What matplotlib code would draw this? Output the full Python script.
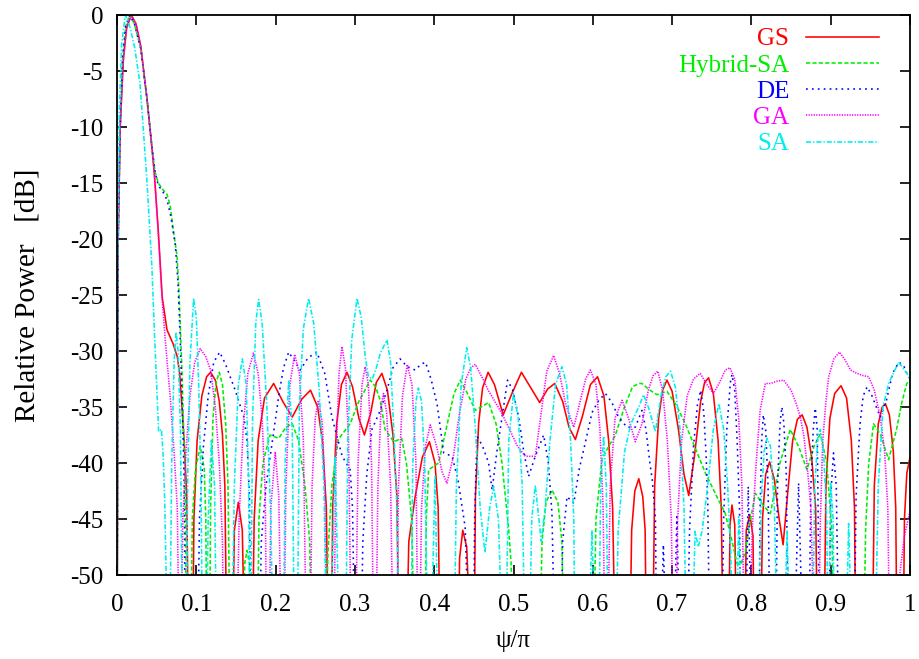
import matplotlib
matplotlib.use("Agg")
import matplotlib.pyplot as plt

plt.rcParams['font.family'] = ['Liberation Serif', 'DejaVu Serif']
plt.rcParams['axes.unicode_minus'] = False

series_names = ["GS", "Hybrid-SA", "DE", "GA", "SA"]
x_ticks = [0, 0.1, 0.2, 0.3, 0.4, 0.5, 0.6, 0.7, 0.8, 0.9, 1]
x_tick_labels = ["0", "0.1", "0.2", "0.3", "0.4", "0.5", "0.6", "0.7", "0.8", "0.9", "1"]
y_ticks = [0, -5, -10, -15, -20, -25, -30, -35, -40, -45, -50]

# GS (red, solid)
gs_pts = [
    (0, -60), (0.0015, -20), (0.004, -10), (0.008, -4), (0.012, -1.2), (0.018, 0), (0.024, -0.8), (0.030, -2.8),
    (0.038, -7.6), (0.044, -11.8), (0.047, -14.1), (0.052, -19.2), (0.057, -25.2), (0.063, -28.1), (0.071, -29.4),
    (0.076, -30.5), (0.079, -32), (0.082, -35), (0.085, -38.5), (0.088, -43), (0.0905, -60),
    (0.095, -60), (0.097, -45), (0.101, -38), (0.107, -34), (0.113, -32.3), (0.118, -31.9), (0.124, -32.6),
    (0.129, -34.5), (0.133, -37.5), (0.136, -42), (0.139, -60),
    (0.145, -60), (0.148, -46), (0.153, -43.5), (0.158, -46), (0.162, -60),
    (0.170, -60), (0.173, -45), (0.178, -38), (0.186, -34.2), (0.1975, -32.9), (0.209, -34.5), (0.221, -35.9),
    (0.233, -34.3), (0.244, -33.5), (0.253, -35), (0.259, -38), (0.264, -44), (0.267, -60),
    (0.270, -60), (0.272, -44), (0.277, -36.5), (0.283, -33), (0.290, -31.9), (0.297, -33.2), (0.305, -36),
    (0.312, -37.5), (0.320, -35.5), (0.327, -32.8), (0.334, -32), (0.341, -33.5), (0.348, -37.5), (0.353, -43),
    (0.356, -60),
    (0.364, -60), (0.368, -47), (0.376, -43), (0.385, -39.5), (0.394, -38.1), (0.401, -40), (0.405, -44), (0.408, -60),
    (0.430, -60), (0.432, -48.5), (0.436, -46), (0.441, -47.5), (0.448, -60),
    (0.450, -60), (0.452, -43), (0.456, -36.5), (0.461, -33.3), (0.468, -31.9), (0.476, -33), (0.487, -35.7),
    (0.498, -33.8), (0.510, -31.9), (0.521, -33.2), (0.533, -34.6), (0.543, -33.4), (0.552, -32.9), (0.562, -34.5),
    (0.570, -36.8), (0.578, -37.9), (0.587, -35.8), (0.597, -33), (0.606, -32.3), (0.614, -34), (0.620, -38),
    (0.625, -44), (0.629, -60),
    (0.646, -60), (0.649, -46), (0.653, -42.5), (0.658, -41.4), (0.663, -43), (0.666, -46), (0.668, -60),
    (0.675, -60), (0.678, -42), (0.683, -36), (0.688, -33.5), (0.6935, -32.6), (0.700, -33.6), (0.708, -37),
    (0.715, -41), (0.721, -42.9), (0.728, -39.5), (0.736, -34.5), (0.741, -32.8), (0.746, -32.4), (0.752, -33.8),
    (0.758, -38), (0.762, -44), (0.765, -60),
    (0.771, -60), (0.773, -45.5), (0.7755, -43.75), (0.779, -45.5), (0.782, -60),
    (0.791, -60), (0.7935, -46), (0.798, -44.6), (0.802, -46.5), (0.804, -60),
    (0.811, -60), (0.814, -45), (0.818, -41), (0.823, -39.9), (0.829, -41.5), (0.835, -45), (0.840, -47.3),
    (0.846, -42.5), (0.852, -38), (0.858, -36.1), (0.864, -35.7), (0.870, -36.8), (0.876, -39.5), (0.881, -44),
    (0.884, -60),
    (0.891, -60), (0.894, -42), (0.899, -36), (0.905, -33.8), (0.913, -33.1), (0.920, -34.2), (0.926, -38),
    (0.930, -44), (0.932, -60),
    (0.952, -60), (0.955, -42), (0.960, -36.5), (0.965, -35), (0.969, -34.7), (0.974, -35.7), (0.979, -39),
    (0.982, -44), (0.984, -60),
    (0.991, -60), (0.993, -45), (0.996, -40.9), (1.0, -39.5),
]

# Hybrid-SA (green, dashed)
hsa_pts = [
    (0, -60), (0.0015, -20), (0.004, -10), (0.007, -4), (0.011, -1), (0.016, 0), (0.022, -0.8), (0.030, -3),
    (0.038, -7.6), (0.044, -11.8), (0.048, -14), (0.052, -15), (0.058, -15.6), (0.063, -16), (0.067, -17),
    (0.071, -19.2), (0.0757, -21.5), (0.078, -24.5), (0.080, -28.1), (0.082, -32), (0.084, -37), (0.086, -42),
    (0.088, -60),
    (0.0925, -60), (0.095, -45), (0.099, -40.5), (0.105, -38.5), (0.110, -40.5), (0.112, -45), (0.1135, -60),
    (0.1165, -60), (0.118, -44), (0.121, -36), (0.125, -32.8), (0.129, -31.9), (0.133, -33), (0.137, -36.5),
    (0.140, -42), (0.143, -60),
    (0.158, -60), (0.161, -49), (0.164, -47.8), (0.167, -49), (0.170, -60),
    (0.1765, -60), (0.179, -45), (0.184, -40), (0.193, -37.5), (0.204, -37.8), (0.213, -36.8), (0.221, -36.5),
    (0.229, -38), (0.237, -42), (0.243, -47), (0.246, -60),
    (0.262, -60), (0.266, -48), (0.271, -42), (0.279, -37.9), (0.294, -36.5), (0.305, -34.5), (0.3195, -32.6),
    (0.326, -33.2), (0.332, -34.4), (0.338, -37), (0.349, -38.1), (0.359, -37.8), (0.365, -40), (0.372, -45.4),
    (0.375, -60),
    (0.388, -60), (0.390, -45), (0.393, -40.6), (0.4055, -40), (0.415, -37), (0.425, -33.8), (0.433, -32.6),
    (0.442, -33.8), (0.452, -35.3), (0.4686, -34.6), (0.478, -36.5), (0.4855, -40), (0.494, -46), (0.497, -49),
    (0.500, -60),
    (0.532, -60), (0.536, -47), (0.541, -43.5), (0.5485, -42.4), (0.556, -43.5), (0.561, -47), (0.565, -60),
    (0.600, -60), (0.604, -45), (0.6115, -39.7), (0.620, -38.5), (0.628, -37.6), (0.640, -35), (0.650, -33.2),
    (0.658, -32.9), (0.662, -32.9), (0.672, -33.5), (0.681, -33.9), (0.6935, -33.6), (0.705, -34.8),
    (0.7167, -36.5), (0.730, -38.8), (0.742, -40.9), (0.755, -42.8), (0.767, -44.5), (0.775, -46.8),
    (0.782, -49), (0.787, -49), (0.792, -48), (0.799, -45), (0.805, -42.7), (0.815, -43.8), (0.824, -44.5),
    (0.836, -40), (0.849, -37), (0.860, -38.6), (0.870, -40.6), (0.879, -38.5), (0.887, -37.4), (0.895, -40),
    (0.9015, -46), (0.905, -60),
    (0.941, -60), (0.944, -46), (0.948, -40), (0.954, -36.5), (0.963, -37.5), (0.973, -39.7), (0.983, -37),
    (0.990, -34.5), (0.996, -32.9), (1.0, -32.6),
]

# DE (blue, dotted)
de_pts = [
    (0, -60), (0.0015, -20), (0.004, -10), (0.007, -4), (0.011, -1), (0.016, 0), (0.022, -0.8), (0.030, -3),
    (0.038, -7.6), (0.044, -11.8), (0.048, -14), (0.052, -15.2), (0.058, -15.8), (0.063, -16.5), (0.068, -18),
    (0.0735, -20.5), (0.077, -24), (0.0795, -28.5), (0.0815, -33), (0.0835, -38), (0.085, -43), (0.086, -60),
    (0.101, -60), (0.104, -45), (0.109, -38.5), (0.115, -34), (0.122, -31), (0.1295, -30.1), (0.137, -31.2),
    (0.149, -33.5), (0.160, -35.9), (0.164, -38), (0.167, -43), (0.169, -60),
    (0.1786, -60), (0.182, -47), (0.188, -42), (0.196, -38), (0.204, -34), (0.210, -31.5), (0.2165, -30.1),
    (0.223, -30.8), (0.231, -31.7), (0.241, -30.6), (0.252, -30.1), (0.262, -32), (0.271, -35.9),
    (0.284, -39.4), (0.294, -40.6), (0.297, -44), (0.3005, -60),
    (0.307, -60), (0.310, -47), (0.315, -41), (0.3215, -37), (0.332, -35.3), (0.3405, -33.5), (0.348, -31.5),
    (0.357, -30.7), (0.366, -31.4), (0.376, -31.7), (0.383, -31.2), (0.389, -31), (0.396, -32.5),
    (0.4035, -34.7), (0.412, -39.1), (0.4225, -39.4), (0.430, -41.5), (0.439, -45.7), (0.4455, -60),
    (0.449, -60), (0.451, -45), (0.454, -37.6), (0.461, -38.5), (0.4686, -40), (0.473, -42.4), (0.479, -39),
    (0.4855, -35.9), (0.4925, -32.6), (0.499, -33.5), (0.5065, -35.9), (0.513, -39), (0.519, -41.2),
    (0.5275, -39.4), (0.538, -37.5), (0.544, -40), (0.5485, -44.5), (0.553, -60),
    (0.559, -60), (0.562, -47), (0.5675, -43), (0.576, -43.6), (0.583, -40.5), (0.5905, -38.2), (0.599, -35.5),
    (0.6075, -34.4), (0.616, -33.8), (0.624, -34.6), (0.6325, -35.9), (0.643, -36.8), (0.6536, -36.8),
    (0.662, -35.3), (0.667, -37), (0.672, -40), (0.675, -41.5), (0.679, -45), (0.681, -60),
    (0.684, -60), (0.689, -47.3), (0.694, -60),
    (0.701, -60), (0.706, -44.8), (0.711, -60),
    (0.7185, -60), (0.722, -46), (0.727, -38.5), (0.732, -34.8), (0.736, -33.5), (0.740, -35.5), (0.743, -39.5),
    (0.745, -43.6), (0.748, -60),
    (0.762, -60), (0.765, -45), (0.769, -37), (0.7735, -32.8), (0.7755, -32.1), (0.779, -33.5), (0.782, -38),
    (0.785, -44), (0.787, -60),
    (0.792, -60), (0.796, -42.1), (0.801, -60),
    (0.809, -60), (0.811, -44), (0.813, -38), (0.815, -35.7), (0.818, -37), (0.821, -42), (0.824, -60),
    (0.830, -60), (0.833, -42), (0.836, -36.5), (0.8385, -35), (0.841, -36.5), (0.844, -41), (0.847, -60),
    (0.853, -60), (0.8595, -41.8), (0.866, -60),
    (0.872, -60), (0.875, -42), (0.878, -37), (0.8806, -35.1), (0.883, -37), (0.8865, -60),
    (0.897, -60), (0.900, -43), (0.9035, -39.1), (0.907, -42), (0.911, -60),
    (0.929, -60), (0.932, -43), (0.937, -36.5), (0.941, -34), (0.946, -33.2), (0.952, -34), (0.9625, -35.9),
    (0.970, -34.5), (0.978, -32), (0.986, -31), (0.992, -31.3), (0.996, -32), (1.0, -32.5),
]

# GA (magenta, fine dots)
ga_pts = [
    (0, -60), (0.0015, -20), (0.004, -10), (0.008, -4), (0.012, -1.2), (0.018, 0), (0.024, -0.8), (0.030, -2.8),
    (0.038, -7.6), (0.044, -11.8), (0.047, -14.1), (0.052, -19.5), (0.057, -25.5), (0.062, -30), (0.067, -34),
    (0.072, -39), (0.076, -44), (0.079, -60),
    (0.080, -60), (0.083, -45), (0.087, -39), (0.092, -34), (0.098, -31), (0.105, -29.8), (0.112, -30.5),
    (0.118, -31.7), (0.124, -35), (0.129, -40), (0.133, -47), (0.135, -60),
    (0.150, -60), (0.154, -45), (0.159, -37), (0.165, -32), (0.172, -30.2), (0.178, -32), (0.183, -36),
    (0.187, -43), (0.189, -60),
    (0.191, -60), (0.194, -44), (0.1996, -39), (0.204, -43), (0.208, -60),
    (0.210, -60), (0.213, -42), (0.218, -33), (0.224, -30.3), (0.230, -32), (0.235, -38), (0.2395, -60),
    (0.243, -60), (0.246, -42), (0.250, -36), (0.254, -34.4), (0.259, -36.5), (0.262, -42), (0.265, -60),
    (0.273, -60), (0.276, -40), (0.280, -32), (0.2837, -29.6), (0.288, -31.5), (0.292, -38), (0.296, -60),
    (0.300, -60), (0.304, -40), (0.309, -33), (0.313, -31.4), (0.317, -33), (0.321, -40), (0.324, -60),
    (0.326, -60), (0.329, -42), (0.333, -35), (0.336, -33.8), (0.340, -35.5), (0.345, -42), (0.349, -60),
    (0.352, -60), (0.355, -42), (0.360, -34), (0.366, -31.2), (0.372, -33), (0.377, -40), (0.380, -60),
    (0.381, -60), (0.384, -44), (0.389, -38.5), (0.395, -36.6), (0.403, -38.5), (0.410, -40.8), (0.416, -41.8),
    (0.424, -39.5), (0.432, -35.5), (0.440, -32.5), (0.446, -31.5), (0.452, -31.2), (0.460, -32.3),
    (0.468, -33.5), (0.4765, -34.5), (0.4855, -35.6), (0.495, -37), (0.505, -38.5), (0.515, -39.4),
    (0.5275, -39.4), (0.535, -35.5), (0.542, -31.8), (0.5506, -30.4), (0.558, -32), (0.566, -34.8),
    (0.576, -36.8), (0.584, -34.5), (0.591, -32.5), (0.597, -31.7), (0.604, -33), (0.609, -37), (0.613, -44),
    (0.616, -60),
    (0.618, -60), (0.622, -42), (0.628, -36), (0.637, -34.4), (0.645, -36), (0.6536, -38.1), (0.662, -36.5),
    (0.670, -33.5), (0.676, -32.2), (0.682, -31.8), (0.688, -33.5), (0.694, -38), (0.699, -45), (0.702, -60),
    (0.704, -60), (0.707, -45), (0.712, -38), (0.719, -34), (0.727, -32.5), (0.7355, -32), (0.744, -33),
    (0.752, -33.8), (0.760, -32.8), (0.767, -31.7), (0.773, -31.5), (0.779, -32.5), (0.784, -36), (0.788, -42),
    (0.792, -60),
    (0.797, -60), (0.801, -46), (0.806, -40), (0.811, -35.3), (0.8175, -32.9), (0.824, -32.9), (0.832, -32.7),
    (0.8406, -32.6), (0.850, -33.5), (0.857, -34.8), (0.8617, -35.9), (0.866, -37.5), (0.870, -40),
    (0.875, -44), (0.8806, -60),
    (0.884, -60), (0.887, -45), (0.890, -38), (0.894, -34.5), (0.8974, -32.3), (0.904, -30.7), (0.911, -30.1),
    (0.918, -30.8), (0.925, -31.7), (0.933, -32), (0.941, -32.2), (0.948, -32.3), (0.955, -33.5),
    (0.9625, -35.9), (0.968, -39), (0.972, -44), (0.975, -60),
    (0.9836, -60), (0.987, -50), (0.993, -46.5), (1.0, -44.3),
]

# SA (cyan, dash-dot)
sa_pts = [
    (0, -60), (0.001, -20), (0.003, -8), (0.006, -2.5), (0.0105, 0), (0.016, -1), (0.022, -2.8), (0.029, -6.1),
    (0.0336, -10.6), (0.037, -14), (0.040, -17.5), (0.044, -22.5), (0.047, -28), (0.050, -33), (0.0525, -37.2),
    (0.056, -37), (0.058, -39), (0.060, -43), (0.062, -50), (0.063, -60),
    (0.066, -60), (0.069, -40), (0.072, -31), (0.0745, -28.3), (0.077, -30), (0.080, -37), (0.083, -60),
    (0.087, -60), (0.089, -42), (0.092, -31), (0.0966, -25.3), (0.100, -27), (0.103, -33), (0.106, -42),
    (0.108, -60),
    (0.112, -60), (0.115, -45), (0.119, -38), (0.123, -42), (0.126, -60),
    (0.144, -60), (0.148, -42), (0.153, -33), (0.158, -30.7), (0.163, -33), (0.166, -42), (0.168, -60),
    (0.168, -60), (0.171, -36), (0.175, -27.5), (0.1786, -25.4), (0.183, -27.5), (0.189, -35), (0.194, -45),
    (0.1975, -60),
    (0.2095, -60), (0.212, -40), (0.2165, -32.6), (0.221, -37), (0.224, -60),
    (0.227, -60), (0.230, -35), (0.235, -28), (0.2416, -25.3), (0.248, -27.5), (0.255, -33.5), (0.261, -42),
    (0.265, -60),
    (0.268, -60), (0.275, -39.4), (0.2816, -60),
    (0.288, -60), (0.291, -38), (0.296, -29), (0.3027, -25.3), (0.308, -27), (0.313, -30.5), (0.317, -32.3),
    (0.322, -32.5), (0.327, -31.5), (0.332, -30.2), (0.3405, -29), (0.345, -31), (0.349, -37), (0.353, -44),
    (0.357, -60),
    (0.370, -60), (0.373, -40), (0.377, -34.5), (0.380, -33.3), (0.384, -34.5), (0.388, -40), (0.393, -60),
    (0.395, -60), (0.401, -41.2), (0.406, -60),
    (0.4245, -60), (0.428, -42), (0.434, -33), (0.441, -29.7), (0.446, -31.5), (0.452, -37), (0.458, -44),
    (0.464, -48), (0.470, -44), (0.475, -42.1), (0.481, -45), (0.4875, -60),
    (0.490, -60), (0.494, -38), (0.500, -33.8), (0.506, -36), (0.511, -42), (0.515, -60),
    (0.519, -60), (0.523, -45), (0.5275, -42), (0.532, -45), (0.535, -47), (0.540, -44), (0.546, -38),
    (0.553, -33), (0.561, -31.4), (0.567, -33), (0.572, -38), (0.576, -45), (0.578, -60),
    (0.593, -60), (0.599, -46), (0.604, -60),
    (0.607, -60), (0.610, -42), (0.6136, -37.6), (0.617, -42), (0.620, -60),
    (0.628, -60), (0.632, -46), (0.640, -39), (0.648, -36.5), (0.658, -35), (0.664, -33.9), (0.670, -35),
    (0.679, -37.2), (0.686, -34), (0.692, -32.3), (0.698, -31.8), (0.704, -33.2), (0.710, -37), (0.715, -44),
    (0.719, -60),
    (0.724, -60), (0.729, -46.1), (0.733, -47.5), (0.738, -46), (0.745, -42), (0.752, -37), (0.759, -34.7),
    (0.765, -37), (0.770, -42), (0.774, -48), (0.777, -60),
    (0.780, -60), (0.784, -44.8), (0.789, -60),
    (0.808, -60), (0.812, -44), (0.816, -39), (0.8196, -37.8), (0.824, -38.5), (0.829, -44), (0.834, -60),
    (0.840, -60), (0.845, -46), (0.850, -60),
    (0.876, -60), (0.880, -42), (0.884, -37.5), (0.887, -37), (0.891, -39), (0.895, -45), (0.897, -60),
    (0.897, -60), (0.900, -41.8), (0.903, -45), (0.905, -60),
    (0.918, -60), (0.9226, -45.4), (0.928, -60),
    (0.955, -60), (0.960, -42), (0.966, -35), (0.973, -32.9), (0.9856, -31), (0.991, -31.5), (0.996, -32),
    (1.0, -32.5),
]

series_pts = [gs_pts, hsa_pts, de_pts, ga_pts, sa_pts]
colors = ["#ff0000", "#00ee00", "#0000ff", "#ff00ff", "#00eeee"]
dashes = [None, (2.6, 1.4), (1.1, 2.6), (0.8, 0.8), (3.2, 1.2, 0.9, 1.2)]

fig = plt.figure(figsize=(9.19, 6.59), dpi=100)
ax = fig.add_axes([117 / 919, 1 - 575 / 659, (910 - 117) / 919, (575 - 15) / 659])

for name, pts, c, d in zip(series_names, series_pts, colors, dashes):
    xs = [p[0] for p in pts]
    ys = [p[1] for p in pts]
    line, = ax.plot(xs, ys, color=c, lw=1.15, label=name)
    if d is not None:
        line.set_dashes(d)

ax.set_xlim(0, 1)
ax.set_ylim(-50, 0)
ax.set_xticks(x_ticks)
ax.set_xticklabels(x_tick_labels)
ax.set_yticks(y_ticks)
ax.set_yticklabels([str(v) for v in y_ticks])
ax.tick_params(direction='in', length=7, width=1.2, top=True, right=True, labelsize=18)
ax.tick_params(axis='x', pad=14)
ax.tick_params(axis='y', pad=10)
for s in ax.spines.values():
    s.set_linewidth(1.3)

ax.set_xlabel("ψ/π", fontsize=18, labelpad=10)
ax.set_ylabel("Relative Power   [dB]", fontsize=21, labelpad=21)

leg = ax.legend(loc='upper right', bbox_to_anchor=(0.980, 1.004), frameon=False,
                markerfirst=False, labelcolor='linecolor', fontsize=18,
                handlelength=2.92, handletextpad=0.68, labelspacing=0.15,
                borderaxespad=0.2)

fig.savefig("out.png", dpi=100)
